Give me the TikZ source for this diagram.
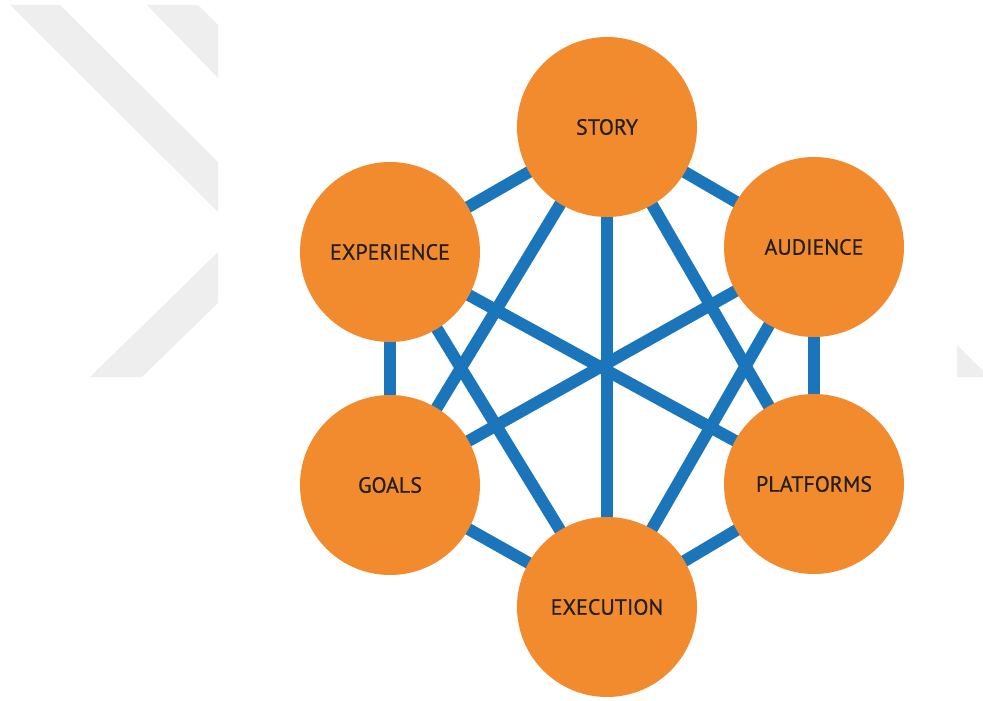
\documentclass[tikz,border=0pt]{standalone}
\usepackage{fontspec}
\setmainfont{PT Sans}
\newfontfamily\topicfont{PT Sans}[FakeBold=0.6]
\usepackage{tikz}
\usetikzlibrary{positioning, backgrounds}
\definecolor{markgray}{HTML}{EEEEEE}
\definecolor{hubblue}{HTML}{1B75BB}
\definecolor{huborange}{HTML}{F28A2E}
\definecolor{inkdark}{HTML}{231F20}

\tikzset{
    topic/.style={circle, fill=huborange, minimum size=180pt, inner sep=0pt,
        text=inkdark, font=\topicfont\fontsize{22}{25}\selectfont},
    link/.style={hubblue, line width=12pt},
}

\begin{document}
\begin{tikzpicture}[x=1pt, y=-1pt]
    \useasboundingbox (0,0) rectangle (983,701);

    % ===== Topics =====
    \node[topic] (story)      at (607,127) {STORY};
    \node[topic] (experience) at (390,252) {EXPERIENCE};
    \node[topic] (audience)   at (814,247) {AUDIENCE};
    \node[topic] (goals)      at (390,485) {GOALS};
    \node[topic] (platforms)  at (814,484) {PLATFORMS};
    \node[topic] (execution)  at (607,607) {EXECUTION};

    \begin{scope}[on background layer]
        % ===== Background chevron =====
        \fill[markgray] (10,5) -- (60,5) -- (218,162) -- (218,212) -- cycle;
        \fill[markgray] (147,5) -- (198,5) -- (218,25) -- (218,78) -- cycle;
        \fill[markgray] (218,252) -- (218,303) -- (142,377) -- (90,377) -- cycle;
        \fill[markgray] (957,345) -- (983,371) -- (983,377) -- (957,377) -- cycle;

        % ===== Links (all pairs but the two horizontals) =====
        \foreach \a/\b in {story/experience, story/audience, story/goals,
            story/platforms, story/execution, experience/goals,
            experience/platforms, experience/execution, audience/platforms,
            audience/goals, audience/execution, goals/execution,
            platforms/execution} {
            \draw[link] (\a.center) -- (\b.center);
        }
    \end{scope}
\end{tikzpicture}
\end{document}
